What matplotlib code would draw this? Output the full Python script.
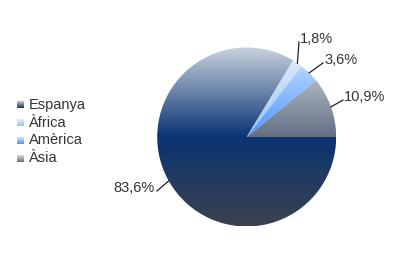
import numpy as np
import matplotlib
matplotlib.use("Agg")
import matplotlib.pyplot as plt
from matplotlib.colors import LinearSegmentedColormap

plt.rcParams["font.family"] = ["Liberation Sans", "DejaVu Sans"]

# data
categories = ["Espanya", "Àfrica", "Amèrica", "Àsia"]
shares = [83.6, 1.8, 3.6, 10.9]
labels = ["83,6%", "1,8%", "3,6%", "10,9%"]

# gradient stops (top, middle, bottom) per slice
GRADS = [
    [(200, 210, 222), (10, 52, 115), (60, 66, 78)],
    [(232, 240, 250), (150, 195, 245), (120, 160, 210)],
    [(210, 230, 255), (75, 148, 255), (60, 120, 210)],
    [(215, 220, 226), (98, 112, 132), (70, 80, 95)],
]

W, H = 398, 274
CX, CY, R = 246.7, H - 137, 89.5
FS = 10.5

# label elbow / text anchor in pixel coords (y down)
LABEL_POS = [(157, 191, "right"), (299, 42, "left"), (323, 63, "left"), (343, 100, "left")]


def cmap_of(stops):
    cols = [tuple(c / 255 for c in s) for s in stops]
    return LinearSegmentedColormap.from_list("g", cols)


fig = plt.figure(figsize=(W / 100, H / 100), dpi=100)
ax = fig.add_axes([0, 0, 1, 1])

wedges, _ = ax.pie(shares, center=(CX, CY), radius=R, startangle=0,
                   counterclock=False, frame=True,
                   wedgeprops=dict(linewidth=0))

grad = np.linspace(0, 1, 256).reshape(-1, 1)
for w, stops in zip(wedges, GRADS):
    w.set_facecolor("none")
    im = ax.imshow(grad, cmap=cmap_of(stops), aspect="auto",
                   extent=(CX - R, CX + R, CY - R, CY + R), origin="upper",
                   interpolation="bilinear", zorder=1)
    im.set_clip_path(w)

for w, lab, (lx, ly, ha) in zip(wedges, labels, LABEL_POS):
    mid = np.deg2rad((w.theta1 + w.theta2) / 2)
    ex, ey = CX + R * np.cos(mid), CY + R * np.sin(mid)
    ax.plot([ex, lx], [ey, H - ly], color="#222222", lw=0.9, zorder=3)
    dx = 1 if ha == "left" else -2
    ax.text(lx + dx, H - ly + 3, lab, ha=ha, va="center", fontsize=FS,
            color="#333333", zorder=4)

# legend, drawn by hand with gradient swatches
LEG_X, LEG_Y0, LEG_DY, SW = 17, 105, 17.7, 7
for i, (cat, stops) in enumerate(zip(categories, GRADS)):
    yc = H - (LEG_Y0 + i * LEG_DY)
    ax.imshow(grad, cmap=LinearSegmentedColormap.from_list(
        "s", [tuple(c / 255 for c in stops[1]), tuple(c / 255 for c in stops[0])]),
        aspect="auto", extent=(LEG_X, LEG_X + SW, yc - SW / 2, yc + SW / 2),
        origin="lower", zorder=2)
    ax.text(LEG_X + 12, yc, cat, ha="left", va="center", fontsize=FS,
            color="#333333")

ax.set_xlim(0, W)
ax.set_ylim(0, H)
ax.set_aspect("auto")
ax.axis("off")

fig.savefig("out.png", dpi=100)
